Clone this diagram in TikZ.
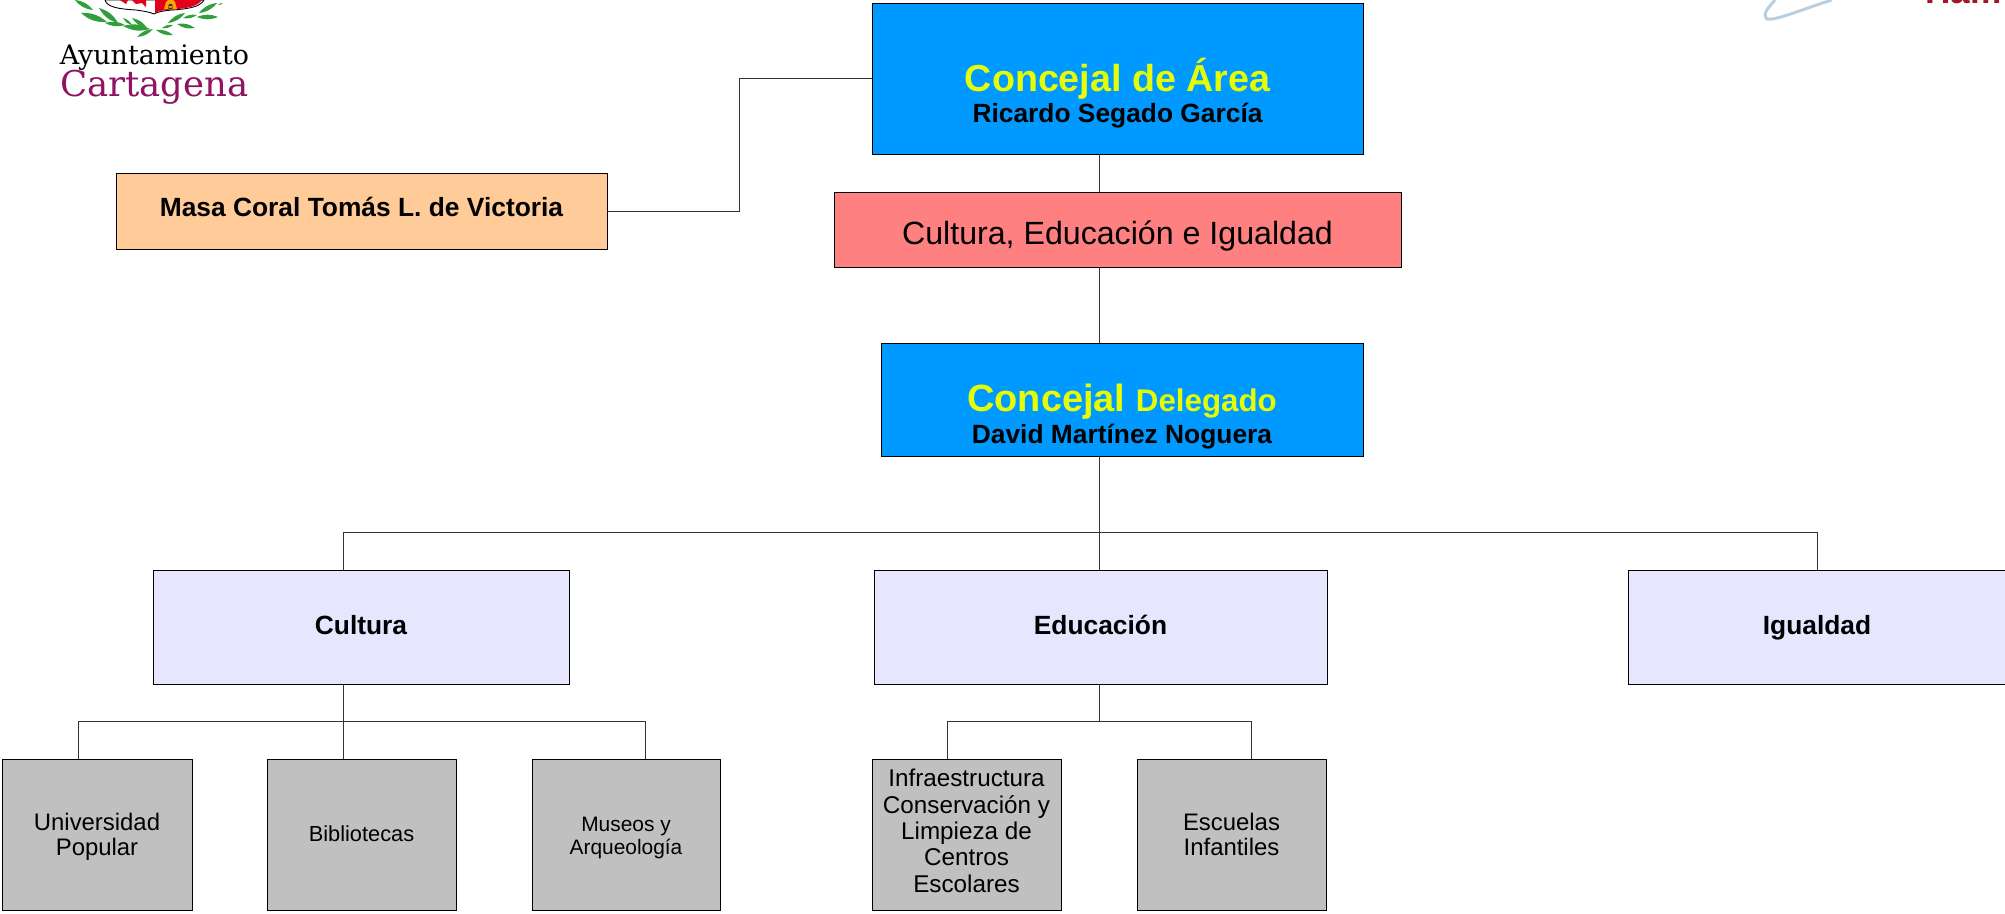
\documentclass[tikz,border=0pt]{standalone}
\usepackage{fontspec}
\setmainfont{Liberation Sans}
\newfontfamily\logofont{DejaVu Serif}
\definecolor{areablue}{HTML}{0099FF}
\definecolor{titleyellow}{HTML}{E6FF00}
\definecolor{salmon}{HTML}{FF8080}
\definecolor{peach}{HTML}{FFCC99}
\definecolor{lavender}{HTML}{E6E6FF}
\definecolor{greybox}{HTML}{C0C0C0}
\definecolor{wine}{HTML}{8E1360}
\definecolor{leaf}{HTML}{2FA03C}
\definecolor{shieldred}{HTML}{E3001B}
\definecolor{swoosh}{HTML}{B9CFDF}
\definecolor{linkgrey}{HTML}{333333}
\definecolor{fragred}{HTML}{A01828}
\tikzset{
  x=0.02cm,y=-0.02cm,
  box/.style={draw=black,line width=0.5pt,inner sep=0pt,align=center},
  link/.style={draw=linkgrey,line width=0.5pt},
}
\newcommand{\fs}[1]{\fontsize{#1}{#1}\selectfont}
% drop, size, leading, rows
\newcommand{\tb}[4]{\raisebox{-#1pt}[0pt][0pt]{\fontsize{#2}{#3}\selectfont\begin{tabular}[c]{@{}c@{}}#4\end{tabular}}}
% name, x0, y0, x1, y1, fill, text
\newcommand{\pbox}[7]{%
  \pgfmathsetmacro{\bw}{(#4-#2)*0.02}\pgfmathsetmacro{\bh}{(#5-#3)*0.02}%
  \node[box,fill=#6,minimum width=\bw cm,minimum height=\bh cm] (#1) at ({(#2+#4)/2},{(#3+#5)/2}) {#7};
}
\newcommand{\leafshape}[5][22]{\fill[leaf] (#2,#3) to[bend left=#1] (#4,#5) to[bend left=#1] (#2,#3) -- cycle;}
\begin{document}
\begin{tikzpicture}
\useasboundingbox (0,0) rectangle (2005,913);
\clip (0,0) rectangle (2005,913);
% logo
\leafshape{75}{0}{93}{10}
\leafshape{81}{13}{107}{22}
\leafshape{99}{8}{118}{23}
\leafshape{105}{23}{125}{25}
\leafshape{123}{18}{132}{25}
\leafshape{123}{26}{150}{29}
\leafshape{132}{18}{147}{28}
\leafshape{137}{37}{153}{29}
\leafshape{156}{30}{173}{35}
\leafshape{162}{28}{173}{25}
\leafshape{177}{24}{195}{28}
\leafshape{168}{23}{185}{13}
\leafshape{183}{18}{197}{15}
\leafshape{197}{17}{218}{17}
\leafshape{199}{13}{217}{3}
\leafshape{218}{5}{223}{3}
\path[fill=white,draw=black,line width=0.5pt] (105,0) .. controls (107,7) and (118,9) .. (136,10) .. controls (143,11) and (150,12) .. (154,14) .. controls (157,12) and (162,11) .. (172,10) .. controls (188,9) and (200,7) .. (204,0) -- cycle;
\fill[shieldred] (155,0) -- (202,0) .. controls (198,6) and (188,8.5) .. (172,9.5) .. controls (164,10) and (158,11) .. (155,13) -- cycle;
\fill[shieldred] (120,0) -- (128,0) -- (126,4) -- cycle;
\fill[shieldred] (132,0) -- (146,0) -- (146,7) -- (142,3) -- (136,4) -- cycle;
\fill[orange!70!yellow] (164,9) -- (166,2) -- (168,0) -- (173,0) -- (175,2) -- (177,9) -- cycle;
\fill[black!80] (170.5,6) circle (2.2) (168.3,6) rectangle (172.7,9);
\node[inner sep=0pt,font=\logofont\fs{15.3}] (ayto) at (154.5,58) {Ayuntamiento};
\node[inner sep=0pt,font=\logofont\fs{20.2},text=wine] (cart) at (154.5,87) {Cartagena};
% top right fragment
\draw[swoosh,line width=1.7pt] (1775,0) .. controls (1768,8) and (1762,14) .. (1767,19) .. controls (1775,21) and (1800,10) .. (1832,0);
\node[inner sep=0pt,anchor=base west,font=\fs{20}\bfseries,text=fragred] (frag) at (1925,3) {Ham};
% boxes
\pbox{area}{872}{3}{1363}{154}{areablue}{\tb{12.5}{15}{15}{\fs{21.4}\bfseries\textcolor{titleyellow}{Concejal de Área}\\[2pt]\fs{15}\bfseries Ricardo Segado García}}
\pbox{cei}{834}{192}{1401}{267}{salmon}{\tb{9}{18.3}{20}{Cultura, Educación e Igualdad}}
\pbox{del}{881}{343}{1363}{456}{areablue}{\tb{14}{15}{15}{\bfseries\textcolor{titleyellow}{\fs{21.6}Concejal \fs{17.8}Delegado}\\[3pt]\fs{15}\bfseries David Martínez Noguera}}
\pbox{masa}{116}{173}{607}{249}{peach}{\tb{3.6}{15}{17}{\bfseries Masa Coral Tomás L. de Victoria}}
\pbox{cul}{153}{570}{569}{684}{lavender}{\tb{4.2}{15}{17}{\bfseries Cultura}}
\pbox{edu}{874}{570}{1327}{684}{lavender}{\tb{4.2}{15}{17}{\bfseries Educación}}
\pbox{igu}{1628}{570}{2006}{684}{lavender}{\tb{4.2}{15}{17}{\bfseries Igualdad}}
\pbox{uni}{2}{759}{192}{910}{greybox}{\tb{5.5}{13.6}{14.6}{Universidad\\Popular}}
\pbox{bib}{267}{759}{456}{910}{greybox}{\tb{4}{12.4}{14}{Bibliotecas}}
\pbox{mus}{532}{759}{720}{910}{greybox}{\tb{5}{11.9}{13}{Museos y\\Arqueología}}
\pbox{inf}{872}{759}{1061}{910}{greybox}{\tb{3.5}{13.8}{15}{Infraestructura\\Conservación y\\Limpieza de\\Centros\\Escolares}}
\pbox{esc}{1137}{759}{1326}{910}{greybox}{\tb{5.5}{13.6}{14.6}{Escuelas\\Infantiles}}
% connector columns and bus levels
\coordinate (xspine) at (1099,532);
\coordinate (xcul) at (343,721);
\coordinate (xedu) at (1099,721);
\coordinate (xigu) at (1817,532);
\coordinate (xuni) at (78,721);
\coordinate (xmus) at (645,721);
\coordinate (xinf) at (947,721);
\coordinate (xesc) at (1251,721);
\coordinate (elbow) at (739,211);
\draw[link] (masa.east |- elbow) -- (elbow) |- (area.west);
\draw[link] (area.south -| xspine) -- (cei.north -| xspine);
\draw[link] (cei.south -| xspine) -- (del.north -| xspine);
\draw[link] (del.south -| xspine) -- (edu.north -| xspine);
\draw[link] (xspine -| xcul) -- (xigu);
\draw[link] (xspine -| xcul) -- (cul.north -| xcul);
\draw[link] (xigu) -- (igu.north -| xigu);
\draw[link] (cul.south -| xcul) -- (bib.north -| xcul);
\draw[link] (xuni) -- (xmus);
\draw[link] (xuni) -- (uni.north -| xuni);
\draw[link] (xmus) -- (mus.north -| xmus);
\draw[link] (edu.south -| xedu) -- (xedu);
\draw[link] (xinf) -- (xesc);
\draw[link] (xinf) -- (inf.north -| xinf);
\draw[link] (xesc) -- (esc.north -| xesc);
\end{tikzpicture}
\end{document}
